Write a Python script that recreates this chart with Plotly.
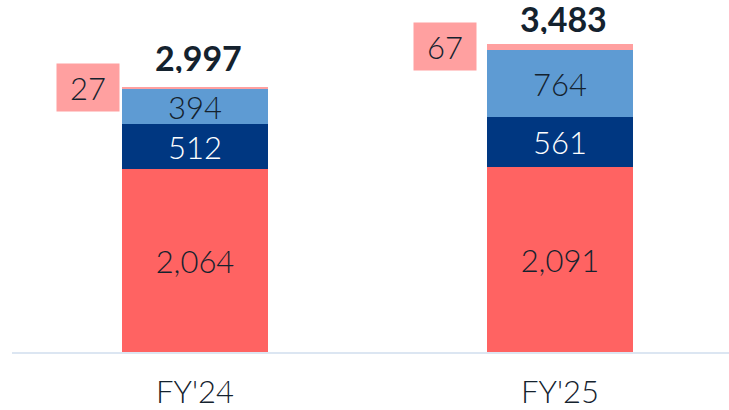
import plotly.graph_objects as go

categories = ["FY'24", "FY'25"]
seg_base = [2064, 2091]
seg_navy = [512, 561]
seg_light = [394, 764]
seg_pink = [27, 67]
totals = [2997, 3483]

red = "#FF6362"
navy = "#003781"
light = "#5E9BD3"
pink = "#FFA0A0"
dark = "#14222E"
FONT = "Lato"
pink_box_xshift = [-2, -10]
total_yshift = [13, 9]

fig = go.Figure()

def add(vals, color, tcolor, show_text=True):
    fig.add_trace(go.Bar(
        x=categories, y=vals, marker=dict(color=color, line=dict(width=0)),
        width=0.402,
        text=[f"{v:,}" for v in vals] if show_text else None,
        texttemplate="%{text}" if show_text else None,
        textposition="inside" if show_text else "none",
        insidetextanchor="middle", textangle=0, constraintext="none",
        textfont=dict(family=FONT, size=31, color=tcolor, weight=300),
        hoverinfo="skip", showlegend=False,
    ))

add(seg_base, red, dark)
add(seg_navy, navy, "white")
add(seg_light, light, dark)
add(seg_pink, pink, dark, show_text=False)

for i, c in enumerate(categories):
    fig.add_annotation(
        x=c, y=totals[i], xref="x", yref="y", text=f"<b>{totals[i]:,}</b>",
        showarrow=False, yanchor="bottom", yshift=total_yshift[i], xshift=3,
        height=32, borderpad=0,
        font=dict(family=FONT, size=34, color=dark),
    )
    top_center = totals[i] - seg_pink[i] / 2
    fig.add_annotation(
        x=i - 0.201, y=top_center, xref="x", yref="y", text=str(seg_pink[i]),
        showarrow=False, xanchor="right", xshift=pink_box_xshift[i],
        width=62, height=47, bgcolor=pink, borderpad=0,
        font=dict(family=FONT, size=31, color=dark, weight=300),
    )

fig.update_layout(
    barmode="stack",
    width=729, height=410,
    margin=dict(l=12, r=0, t=40, b=58),
    paper_bgcolor="white", plot_bgcolor="white",
    bargap=0,
    xaxis=dict(
        type="category", range=[-0.5014, 1.463],
        showline=True, linecolor="#DCE6F2", linewidth=2,
        showgrid=False, zeroline=False, ticks="",
        tickfont=dict(family=FONT, size=31, color=dark, weight=300),
        ticklabelstandoff=12,
    ),
    yaxis=dict(range=[0, 3525], visible=False, showgrid=False, zeroline=False),
)

fig.write_html(
    "out.html",
    config={"displayModeBar": False},
    post_script="document.body.style.margin='0';document.body.style.overflow='hidden';",
)
